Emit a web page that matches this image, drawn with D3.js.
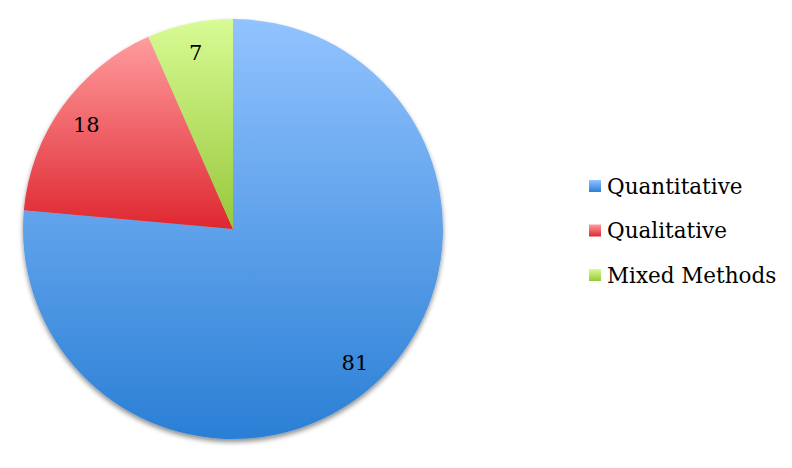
<!DOCTYPE html>
<html>
<head>
<meta charset="utf-8">
<script src="https://cdn.jsdelivr.net/npm/d3@7"></script>
<style>
  body { margin: 0; background: #fff; }
  text { font-family: "DejaVu Serif", serif; }
</style>
</head>
<body>
<div id="wrapper"></div>
<script>
const categories = ["Quantitative", "Qualitative", "Mixed Methods"];
const values = [81, 18, 7];
// top / bottom colour of each slice gradient
const topColors = ["#92c3ff", "#ff9c9e", "#d8fb95"];
const bottomColors = ["#2a7fd5", "#df2730", "#97c83a"];

function buildChart() {
    const dimension = { width: 792, height: 468 };
    const cx = 233, cy = 229, radius = 210;

    const svg = d3.select("#wrapper").append("svg")
        .attr("width", dimension.width)
        .attr("height", dimension.height);

    const defs = svg.append("defs");

    // soft shadow under the pie
    const shadow = defs.append("filter").attr("id", "shadow")
        .attr("x", "-10%").attr("y", "-10%").attr("width", "120%").attr("height", "125%");
    shadow.append("feGaussianBlur").attr("in", "SourceAlpha").attr("stdDeviation", 2.5);
    shadow.append("feOffset").attr("dx", 0).attr("dy", 3).attr("result", "blur");
    shadow.append("feComponentTransfer").append("feFuncA").attr("type", "linear").attr("slope", 0.45);
    const merge = shadow.append("feMerge");
    merge.append("feMergeNode");
    merge.append("feMergeNode").attr("in", "SourceGraphic");

    categories.forEach((c, i) => {
        const g = defs.append("linearGradient").attr("id", "grad" + i)
            .attr("x1", 0).attr("y1", 0).attr("x2", 0).attr("y2", 1);
        g.append("stop").attr("offset", "0%").attr("stop-color", topColors[i]);
        g.append("stop").attr("offset", "100%").attr("stop-color", bottomColors[i]);
    });

    const pie = d3.pie().sort(null).value(d => d);
    const arcs = pie(values);
    const arc = d3.arc().innerRadius(0).outerRadius(radius);
    const labelArc = d3.arc().innerRadius(radius * 0.86).outerRadius(radius * 0.86);

    const chart = svg.append("g")
        .attr("transform", `translate(${cx},${cy})`);

    chart.append("g").attr("filter", "url(#shadow)")
        .selectAll("path")
        .data(arcs)
        .join("path")
        .attr("d", arc)
        .attr("fill", (d, i) => `url(#grad${i})`);

    chart.selectAll(".label")
        .data(arcs)
        .join("text")
        .attr("class", "label")
        .attr("transform", d => `translate(${labelArc.centroid(d)})`)
        .attr("text-anchor", "middle")
        .attr("dy", "0.38em")
        .attr("font-size", 21)
        .attr("fill", "#000")
        .text(d => d.data);

    // legend
    const legend = svg.append("g").attr("transform", "translate(589,186)");
    const rows = legend.selectAll("g")
        .data(categories)
        .join("g")
        .attr("transform", (d, i) => `translate(0,${i * 44.5})`);
    rows.append("rect")
        .attr("x", 0).attr("y", -6)
        .attr("width", 12).attr("height", 12)
        .attr("fill", (d, i) => `url(#grad${i})`);
    rows.append("text")
        .attr("x", 18)
        .attr("dy", "0.36em")
        .attr("font-size", 21.5)
        .attr("fill", "#000")
        .text(d => d);
}

buildChart();
</script>
</body>
</html>
